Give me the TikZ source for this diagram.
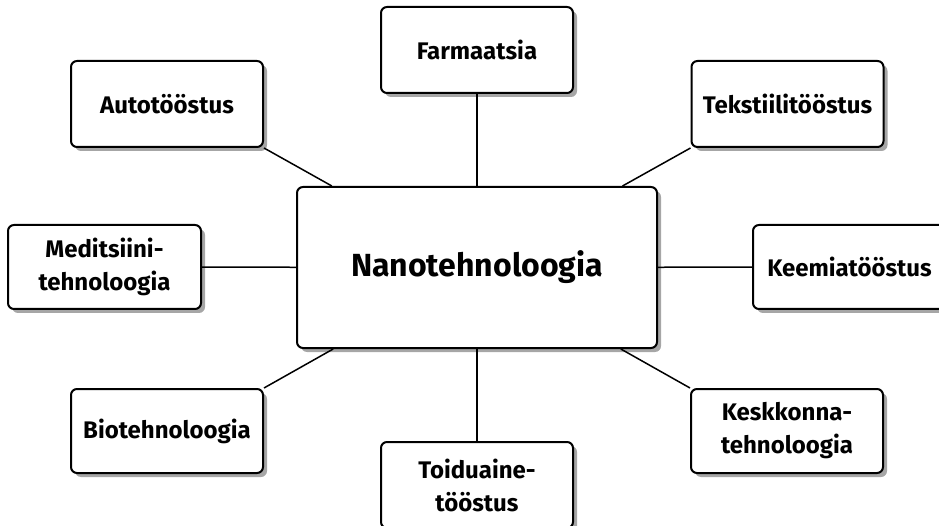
\documentclass[tikz,border=0pt]{standalone}
\usepackage{fontspec}
\setmainfont{Fira Sans}
\usepackage{tikz}
\usetikzlibrary{positioning,calc,shadows}

\begin{document}
\begin{tikzpicture}[x=1pt, y=-1pt, node distance=3cm and 4cm,
 box/.style = {rectangle, rounded corners=6pt, draw, line width=2pt, fill=white, align=center, inner sep=2pt, minimum width=192pt, minimum height=86pt, font=\fontsize{24}{33}\selectfont\bfseries, drop shadow={shadow xshift=4pt, shadow yshift=-4pt, fill=black!35, opacity=1}},
 hub/.style = {box, minimum width=360pt, minimum height=161pt, font=\fontsize{32}{38}\selectfont\bfseries},
 link/.style = {line width=1.5pt}]

\useasboundingbox (0,0) rectangle (939,526);

\node[hub] (nano) at (477,267.5) {Nanotehnoloogia};

\node[box] (farm) at (477,50) {Farmaatsia};
\node[box] (auto) at (167,104) {Autotööstus};
\node[box] (teks) at (787.5,104) {Tekstiilitööstus};
\node[box, minimum width=193pt, minimum height=84pt] (medi) at (104.5,267) {Meditsiini-\\tehnoloogia};
\node[box, minimum width=193pt, minimum height=84pt] (keem) at (849.5,267) {Keemiatööstus};
\node[box, minimum height=84pt] (bio) at (167,431) {Biotehnoloogia};
\node[box, minimum height=84pt] (kesk) at (787,431) {Keskkonna-\\tehnoloogia};
\node[box] (toit) at (477,485) {Toiduaine-\\tööstus};

\path[link]
 (farm) edge (nano)
 (toit) edge (nano)
 (medi) edge (nano)
 (keem) edge (nano)
 (auto.south east) edge (nano)
 (teks.south west) edge (nano)
 (bio.north east) edge (nano)
 (kesk.north west) edge (nano);
\end{tikzpicture}
\end{document}
